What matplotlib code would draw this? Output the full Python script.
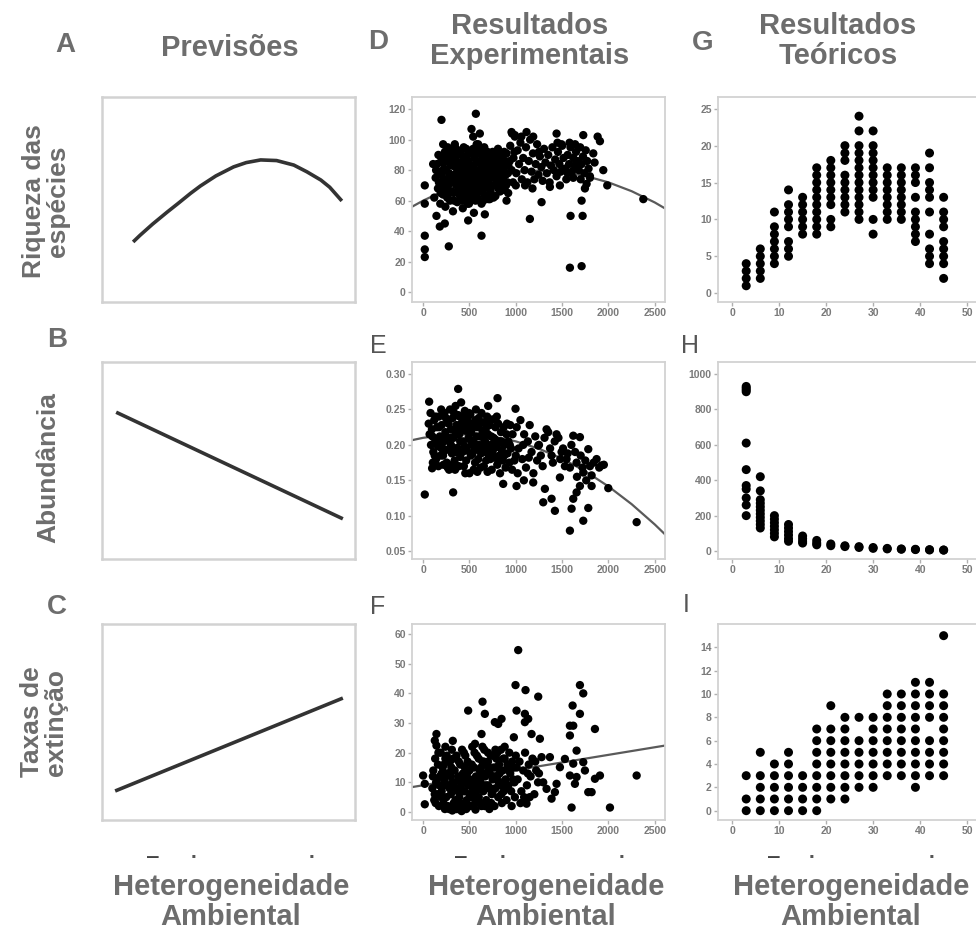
import numpy as np
import matplotlib.pyplot as plt

W, H = 976, 930

# ===== Previsões (coluna A-C), unidades normalizadas =====
pred_rich_x = [0.123, 0.15, 0.20, 0.258, 0.30, 0.35, 0.389, 0.45, 0.52, 0.57,
               0.627, 0.69, 0.758, 0.81, 0.865, 0.90, 0.948]
pred_rich_y = [0.293, 0.325, 0.38, 0.439, 0.48, 0.53, 0.566, 0.615, 0.659, 0.68,
               0.693, 0.69, 0.668, 0.635, 0.595, 0.56, 0.493]
pred_abund_x = [0.056, 0.952]
pred_abund_y = [0.745, 0.204]
pred_ext_x = [0.052, 0.952]
pred_ext_y = [0.148, 0.622]

# ===== Resultados experimentais (D-F) =====
rich_pts = [
    (120, 62), (135, 75), (150, 84), (160, 68), (175, 79), (185, 58), (195, 88), (205, 71), (215, 64), (225, 81),
    (235, 92), (240, 56), (250, 74), (262, 86), (270, 67), (280, 78), (290, 60), (298, 90), (305, 72), (315, 83),
    (322, 53), (330, 65), (338, 77), (345, 95), (352, 87), (360, 70), (368, 59), (375, 81), (382, 74), (390, 91),
    (398, 63), (405, 85), (412, 68), (420, 78), (428, 55), (435, 89), (442, 72), (450, 82), (458, 61), (465, 94),
    (472, 76), (480, 67), (488, 86), (495, 58), (502, 79), (510, 70), (518, 91), (525, 64), (532, 83), (540, 75),
    (548, 52), (555, 88), (562, 69), (570, 80), (578, 97), (585, 62), (592, 74), (600, 85), (608, 67), (615, 93),
    (622, 78), (630, 58), (638, 71), (645, 87), (652, 82), (660, 64), (668, 76), (675, 90), (682, 69), (690, 84),
    (698, 73), (705, 61), (712, 79), (720, 88), (728, 66), (735, 81), (742, 75), (750, 92), (758, 70), (765, 84),
    (772, 78), (780, 63), (788, 87), (795, 73), (802, 81), (810, 68), (818, 90), (825, 76), (832, 84), (840, 71),
    (848, 79), (855, 88), (862, 74), (870, 82), (878, 67), (885, 86), (892, 77), (900, 91), (910, 72), (920, 83),
    (250, 80), (300, 76), (350, 82), (400, 72), (450, 76), (500, 84), (550, 72), (600, 78), (650, 74), (700, 80),
    (200, 77), (280, 71), (330, 88), (380, 66), (430, 80), (480, 90), (530, 68), (580, 86), (630, 82), (680, 77),
    (210, 85), (260, 62), (310, 66), (360, 78), (410, 93), (460, 70), (510, 62), (560, 78), (610, 70), (660, 95),
    (170, 72), (230, 68), (290, 84), (340, 72), (390, 84), (440, 64), (490, 75), (540, 94), (590, 66), (640, 66),
    (720, 70), (770, 90), (820, 78), (860, 80),
    (140, 80), (165, 90), (190, 65), (220, 74), (245, 88), (265, 95), (285, 65), (310, 92), (335, 60), (355, 74),
    (372, 90), (395, 78), (418, 60), (438, 95), (462, 86), (478, 58), (500, 92), (520, 74), (545, 82), (565, 60),
    (585, 92), (605, 72), (628, 90), (650, 60), (672, 84), (695, 92), (718, 64), (740, 86), (760, 62), (785, 80),
    (808, 94), (830, 66), (852, 74), (875, 92), (895, 70), (915, 78), (935, 86), (955, 80), (970, 72), (985, 92),
    (940, 96), (960, 104), (975, 88), (990, 102), (1005, 78), (1020, 93), (1035, 84), (1050, 98), (1065, 74), (1080, 88),
    (1095, 80), (1110, 95), (1125, 72), (1140, 86), (1155, 100), (1170, 79), (1185, 91), (1200, 74), (1215, 84), (1230, 97),
    (1245, 77), (1260, 89), (1275, 82), (1290, 73), (1305, 94), (1320, 85), (1335, 78), (1350, 90), (1365, 72), (1380, 83),
    (1395, 95), (1410, 80), (1425, 87), (1440, 76), (1455, 92), (1470, 84), (1485, 79), (1500, 96), (1515, 88), (1530, 81),
    (1545, 74), (1560, 90), (1575, 84), (1590, 95), (1605, 79), (1620, 88), (1635, 83), (1650, 92), (1665, 86), (1680, 80),
    (1695, 95), (1710, 84), (1725, 89), (1740, 78), (1755, 93), (1770, 86), (1785, 81), (1800, 76), (1580, 98), (1640, 97),
    (1000, 70), (1100, 70), (1250, 92), (1180, 68), (1450, 98), (1560, 78), (1700, 74), (1850, 85), (1620, 75), (1060, 102),
    (198, 113), (569, 117), (522, 107), (18, 70), (18, 58), (18, 37), (18, 28), (18, 23), (277, 30), (630, 37),
    (1152, 48), (1278, 59), (1584, 16), (1710, 17), (1591, 50), (1721, 50), (1710, 60), (1987, 70), (2376, 61), (1836, 91),
    (1883, 102), (1908, 99), (1440, 104), (954, 105), (990, 103), (1116, 105), (1188, 102), (1494, 97), (1728, 103), (108, 84),
    (216, 97), (342, 97), (540, 102), (594, 97), (612, 104), (144, 50), (180, 43), (234, 45), (486, 47), (666, 51),
    (720, 61), (900, 60), (918, 65), (1368, 69), (1476, 70), (1746, 68), (1764, 71), (1944, 80), (1800, 75),
]
rich_fit_x = [-120, 0, 250, 500, 750, 1000, 1250, 1500, 1750, 2000, 2250, 2500, 2610]
rich_fit_y = [56.0, 60.0, 67.2, 72.8, 76.7, 79.0, 79.7, 78.8, 76.2, 72.0, 66.2, 58.8, 54.9]

abund_pts = [
    (60, 0.230), (70, 0.215), (85, 0.200), (95, 0.222), (110, 0.190), (120, 0.235), (130, 0.208), (140, 0.180), (150, 0.225), (160, 0.198),
    (170, 0.240), (180, 0.212), (190, 0.185), (200, 0.228), (210, 0.203), (220, 0.172), (230, 0.245), (240, 0.218), (250, 0.193), (260, 0.232),
    (270, 0.207), (280, 0.165), (290, 0.250), (300, 0.222), (310, 0.188), (320, 0.238), (330, 0.210), (340, 0.178), (350, 0.255), (360, 0.228),
    (370, 0.196), (380, 0.242), (390, 0.215), (400, 0.183), (410, 0.260), (420, 0.232), (430, 0.205), (440, 0.170), (450, 0.248), (460, 0.220),
    (470, 0.192), (480, 0.237), (490, 0.210), (500, 0.160), (510, 0.243), (520, 0.218), (530, 0.187), (540, 0.230), (550, 0.203), (560, 0.175),
    (570, 0.250), (580, 0.225), (590, 0.197), (600, 0.238), (610, 0.212), (620, 0.168), (630, 0.245), (640, 0.220), (650, 0.190), (660, 0.232),
    (670, 0.205), (680, 0.178), (690, 0.240), (700, 0.215), (710, 0.185), (720, 0.228), (730, 0.200), (740, 0.165), (750, 0.236), (760, 0.210),
    (770, 0.182), (780, 0.225), (790, 0.197), (800, 0.172), (810, 0.230), (820, 0.205), (830, 0.160), (840, 0.218), (850, 0.192), (860, 0.178),
    (870, 0.225), (880, 0.200), (890, 0.168), (900, 0.215), (910, 0.188), (920, 0.205), (930, 0.175), (940, 0.228), (950, 0.195), (960, 0.165),
    (100, 0.212), (150, 0.202), (200, 0.195), (250, 0.210), (300, 0.200), (350, 0.215), (400, 0.205), (450, 0.198), (500, 0.208), (550, 0.192),
    (600, 0.200), (650, 0.210), (700, 0.195), (750, 0.188), (800, 0.200), (125, 0.185), (175, 0.225), (225, 0.205), (275, 0.230), (325, 0.195),
    (375, 0.220), (425, 0.190), (475, 0.228), (525, 0.200), (575, 0.212), (625, 0.188), (675, 0.222), (725, 0.180), (775, 0.208), (825, 0.185),
    (255, 0.175), (345, 0.165), (455, 0.160), (585, 0.162), (695, 0.162), (395, 0.240), (505, 0.225), (615, 0.230),
    (80, 0.245), (105, 0.175), (135, 0.240), (165, 0.170), (195, 0.250), (215, 0.185), (245, 0.238), (265, 0.168), (295, 0.210), (315, 0.172),
    (335, 0.245), (355, 0.190), (385, 0.170), (405, 0.225), (435, 0.240), (465, 0.178), (495, 0.245), (515, 0.185), (545, 0.165), (565, 0.235),
    (595, 0.180), (635, 0.200), (655, 0.170), (685, 0.195), (705, 0.232), (735, 0.212), (765, 0.195), (795, 0.240), (815, 0.178), (845, 0.205),
    (875, 0.185), (905, 0.230), (935, 0.200), (965, 0.215), (985, 0.178),
    (1010, 0.225), (1030, 0.195), (1050, 0.235), (1070, 0.180), (1090, 0.215), (1110, 0.168), (1130, 0.205), (1150, 0.228), (1170, 0.190), (1190, 0.160),
    (1210, 0.212), (1230, 0.178), (1250, 0.200), (1270, 0.185), (1290, 0.170), (1310, 0.210), (1350, 0.218), (1370, 0.195), (1400, 0.175), (1420, 0.205),
    (1460, 0.210), (1480, 0.180), (1510, 0.195), (1530, 0.170), (1560, 0.188), (1600, 0.200), (1640, 0.190), (1660, 0.155), (1700, 0.185), (1720, 0.168),
    (1750, 0.178), (1760, 0.150), (1800, 0.170), (1840, 0.175), (1900, 0.168), (1950, 0.172), (1020, 0.160), (1080, 0.200), (1140, 0.182), (1000, 0.185),
    (378, 0.279), (65, 0.261), (702, 0.255), (803, 0.266), (997, 0.251), (18, 0.130), (324, 0.133), (97, 0.167), (864, 0.145), (1008, 0.142),
    (1087, 0.150), (1188, 0.147), (1296, 0.119), (1386, 0.124), (1422, 0.107), (1314, 0.138), (1476, 0.154), (1584, 0.079), (1728, 0.093), (1782, 0.111),
    (2304, 0.091), (1998, 0.139), (1602, 0.110), (1620, 0.124), (1656, 0.133), (1692, 0.142), (1818, 0.142), (1926, 0.171), (1872, 0.180), (1782, 0.194),
    (1692, 0.211), (1620, 0.213), (1440, 0.215), (1332, 0.222), (1242, 0.199), (1386, 0.185), (1494, 0.190), (1548, 0.180), (1584, 0.168), (1656, 0.175),
    (1728, 0.161), (1818, 0.157),
]
abund_fit_x = [-120, 0, 250, 500, 750, 1000, 1250, 1500, 1750, 2000, 2250, 2500, 2610]
abund_fit_y = [0.2067, 0.210, 0.2143, 0.2148, 0.2117, 0.205, 0.1946, 0.1806, 0.1628, 0.1414, 0.1164, 0.0877, 0.0738]

ext_pts = [
    (100, 8), (110, 14), (120, 4), (130, 18), (140, 10), (150, 6), (160, 16), (170, 2), (180, 12), (190, 20),
    (200, 7), (210, 15), (220, 3), (230, 11), (240, 18), (250, 5), (260, 13), (270, 9), (280, 1), (290, 17),
    (300, 6), (310, 21), (320, 10), (330, 3), (340, 14), (350, 8), (360, 19), (370, 1), (380, 12), (390, 5),
    (400, 16), (410, 9), (420, 2), (430, 13), (440, 20), (450, 7), (460, 11), (470, 4), (480, 17), (490, 9),
    (500, 14), (510, 2), (520, 10), (530, 22), (540, 6), (550, 15), (560, 3), (570, 12), (580, 19), (590, 8),
    (600, 5), (610, 14), (620, 10), (630, 2), (640, 17), (650, 7), (660, 21), (670, 12), (680, 4), (690, 16),
    (700, 9), (710, 3), (720, 13), (730, 19), (740, 6), (750, 11), (760, 15), (770, 2), (780, 8), (790, 18),
    (800, 12), (810, 5), (820, 16), (830, 9), (840, 21), (850, 3), (860, 14), (870, 7), (880, 18), (890, 11),
    (900, 4), (910, 16), (920, 9), (930, 20), (940, 13), (950, 7), (960, 17), (970, 11), (980, 15), (990, 5),
    (150, 11), (200, 13), (250, 9), (300, 12), (350, 4), (400, 11), (450, 15), (500, 6), (550, 10), (600, 18),
    (650, 13), (700, 17), (750, 7), (800, 20), (850, 10), (125, 6), (175, 9), (225, 16), (275, 13), (325, 18),
    (375, 7), (425, 10), (475, 13), (525, 16), (575, 7), (625, 15), (675, 9), (725, 8), (775, 12), (825, 13),
    (265, 2), (315, 0.5), (365, 4), (415, 0.3), (465, 1), (515, 5), (565, 0.8), (615, 3), (665, 2), (715, 1),
    (240, 22), (320, 24), (420, 21), (560, 23), (640, 22), (700, 20), (780, 21), (880, 22), (1000, 19), (1020, 11),
    (1040, 17), (1060, 7), (1080, 14), (1100, 20), (1120, 9), (1140, 16), (1160, 12), (1180, 18), (1200, 6), (1220, 14),
    (1240, 10), (1050, 3), (1150, 5),
    (105, 12), (135, 3), (165, 20), (195, 5), (215, 9), (235, 1), (255, 19), (285, 8), (305, 15), (335, 10),
    (355, 1), (385, 17), (405, 3), (435, 7), (455, 19), (485, 2), (505, 11), (535, 8), (555, 20), (585, 4),
    (605, 9), (635, 12), (655, 17), (685, 8), (705, 14), (735, 3), (755, 19), (785, 15), (815, 10), (845, 6),
    (865, 18), (895, 8), (925, 14), (955, 2), (985, 10), (1010, 15), (1090, 5), (1130, 13), (1210, 17), (1250, 13),
    (1026, 54.6), (997, 42.8), (1105, 41.1), (1242, 38.9), (1692, 42.8), (1728, 40.0), (1692, 33.1), (1613, 35.9), (1008, 34.2), (1098, 33.1),
    (1134, 31.4), (1098, 30.3), (486, 34.2), (641, 37.2), (666, 33.1), (774, 30.3), (846, 31.4), (810, 29.7), (630, 26.3), (979, 25.2),
    (1170, 26.3), (1260, 24.7), (1584, 29.1), (1620, 29.1), (1584, 25.8), (1854, 28.0), (144, 26.3), (126, 24.1), (144, 22.4), (2304, 12.3),
    (2016, 1.5), (1602, 1.5), (1116, 2.8), (18, 2.6), (18, 9.5), (0, 12.3), (1908, 12.3), (1854, 11.2), (1782, 6.7), (1818, 6.7),
    (1746, 14.0), (1728, 16.8), (1638, 9.5), (1656, 11.8), (1584, 12.3), (1422, 6.7), (1386, 4.5), (1332, 7.8), (1296, 10.0), (1440, 9.5),
    (1476, 15.1), (1368, 18.5), (1278, 18.5), (1530, 17.9), (1656, 20.7), (1620, 16.3),
]
ext_fit_x = [-120, 2610]
ext_fit_y = [8.4, 22.4]

# ===== Resultados teóricos (G-I) =====
teo_x = [3, 6, 9, 12, 15, 18, 21, 24, 27, 30, 33, 36, 39, 42, 45]
teo_rich = [
    [1, 2, 3, 4], [2, 3, 4, 5, 6], [4, 5, 6, 7, 8, 9, 11], [5, 6, 7, 9, 10, 11, 12, 14],
    [8, 9, 10, 11, 12, 13], [8, 9, 10, 11, 12, 13, 14, 15, 16, 17], [9, 10, 12, 13, 14, 15, 16, 17, 18],
    [11, 12, 13, 14, 15, 16, 18, 19, 20], [10, 11, 12, 13, 14, 15, 16, 17, 18, 19, 20, 22, 24],
    [8, 10, 13, 14, 15, 16, 17, 18, 19, 20, 22], [10, 11, 12, 13, 14, 15, 16, 17],
    [10, 11, 12, 13, 14, 15, 16, 17], [7, 8, 9, 10, 11, 13, 15, 16, 17],
    [4, 5, 6, 8, 11, 13, 14, 15, 17, 19], [2, 4, 5, 6, 7, 9, 10, 11, 13],
]
teo_abund = [
    [200, 260, 300, 350, 370, 460, 610, 900, 910, 920, 930],
    [130, 150, 170, 190, 210, 230, 250, 270, 290, 340, 420],
    [80, 100, 120, 140, 160, 180, 200], [55, 70, 90, 110, 130, 150],
    [45, 55, 70, 85], [35, 45, 60], [30, 40], [25, 30], [20, 25], [15, 20],
    [12, 15], [10, 12], [8, 10], [6, 8], [5, 6],
]
teo_ext = [
    [0, 1, 3], [0, 1, 2, 3, 5], [0, 1, 2, 3, 4], [0, 1, 2, 3, 4, 5], [0, 1, 2, 3],
    [0, 1, 2, 3, 4, 5, 6, 7], [1, 2, 3, 4, 5, 6, 7, 9], [1, 2, 3, 4, 5, 6, 7, 8],
    [2, 3, 4, 5, 6, 8], [2, 3, 4, 5, 6, 7, 8], [3, 4, 5, 6, 7, 8, 9, 10],
    [3, 4, 5, 6, 7, 8, 9, 10], [2, 3, 4, 5, 6, 7, 8, 9, 10, 11],
    [3, 4, 5, 6, 8, 9, 10, 11], [3, 4, 5, 6, 7, 8, 9, 10, 15],
]

# ===== estilo =====
GRAY = "#6d6d6d"
NARROW = ["Liberation Sans Narrow", "Liberation Sans", "DejaVu Sans"]
SANS = ["Liberation Sans", "DejaVu Sans"]
FRAME = "#d2d2d2"
DOT_EXP = 36
DOT_TEO = 42

fig = plt.figure(figsize=(W / 100, H / 100), dpi=100)


def box(l, t, r, b):
    return [l / W, 1 - b / H, (r - l) / W, (b - t) / H]


rows = [(97, 302), (362, 559), (624, 820)]


def style_pred(ax):
    ax.set_xlim(0, 1)
    ax.set_ylim(0, 1)
    ax.set_xticks([])
    ax.set_yticks([])
    for s in ax.spines.values():
        s.set_color(FRAME)
        s.set_linewidth(1.8)


def style_data(ax, xlim, ylim, xticks, yticks):
    ax.set_xlim(xlim)
    ax.set_ylim(ylim)
    ax.set_xticks(xticks)
    ax.set_yticks(yticks)
    for s in ax.spines.values():
        s.set_color(FRAME)
        s.set_linewidth(1.3)
    ax.tick_params(length=3, width=1, color="#b0b0b0", labelsize=7.5,
                   labelcolor="#7a7a7a", pad=1.5)
    for lab in ax.get_xticklabels() + ax.get_yticklabels():
        lab.set_fontweight("bold")
        lab.set_family(NARROW)


# coluna A-C
pred = [(pred_rich_x, pred_rich_y), (pred_abund_x, pred_abund_y), (pred_ext_x, pred_ext_y)]
for (t, b), (px, py) in zip(rows, pred):
    ax = fig.add_axes(box(102, t, 355, b))
    ax.plot(px, py, color="#333333", lw=2.6, solid_capstyle="butt")
    style_pred(ax)

# coluna D-F (linha ajustada fica por baixo dos pontos)
xt_exp = [0, 500, 1000, 1500, 2000, 2500]
exp = [
    (rich_pts, rich_fit_x, rich_fit_y, (-6.5, 128), [0, 20, 40, 60, 80, 100, 120]),
    (abund_pts, abund_fit_x, abund_fit_y, (0.039, 0.317), [0.05, 0.10, 0.15, 0.20, 0.25, 0.30]),
    (ext_pts, ext_fit_x, ext_fit_y, (-2.7, 63.4), [0, 10, 20, 30, 40, 50, 60]),
]
for (t, b), (pts, fx, fy, ylim, yt) in zip(rows, exp):
    ax = fig.add_axes(box(412, t, 665, b))
    xs, ys = zip(*pts)
    ax.plot(fx, fy, color="#5a5a5a", lw=1.6, zorder=1)
    ax.scatter(xs, ys, s=DOT_EXP, color="black", edgecolors="none", zorder=2)
    style_data(ax, (-120, 2610), ylim, xt_exp, yt)
    if yt[0] == 0.05:
        ax.set_yticklabels(["%.2f" % v for v in yt], fontweight="bold", family=NARROW)

# coluna G-I
teo = [
    (teo_rich, (-1.2, 26.6), [0, 5, 10, 15, 20, 25]),
    (teo_abund, (-45, 1068), [0, 200, 400, 600, 800, 1000]),
    (teo_ext, (-0.8, 16), [0, 2, 4, 6, 8, 10, 12, 14]),
]
for (t, b), (cols, ylim, yt) in zip(rows, teo):
    ax = fig.add_axes(box(718, t, 985, b))
    xs = [x for x, c in zip(teo_x, cols) for _ in c]
    ys = [v for c in cols for v in c]
    ax.scatter(xs, ys, s=DOT_TEO, color="black", edgecolors="none", zorder=2)
    style_data(ax, (-3, 53.8), ylim, [0, 10, 20, 30, 40, 50], yt)


# ===== textos =====
def ftext(x, y, s, **kw):
    kw.setdefault("color", GRAY)
    fig.text(x / W, 1 - y / H, s, ha="center", va="center", **kw)


for x, y, s in [(65, 45, "A"), (378, 42, "D"), (703, 43, "G"),
                (57, 340, "B"), (57, 607, "C")]:
    ftext(x, y, s, fontsize=20, fontweight="bold", family=NARROW)
for x, y, s in [(378, 346, "E"), (378, 607, "F"), (690, 346, "H"), (686, 605, "I")]:
    ftext(x, y, s, fontsize=18, family=SANS, color="#555555")

ftext(230, 48, "Previsões", fontsize=21, fontweight="bold", family=NARROW)
ftext(530, 41, "Resultados\nExperimentais", fontsize=21, fontweight="bold",
      family=NARROW, linespacing=1.1)
ftext(838, 41, "Resultados\nTeóricos", fontsize=21, fontweight="bold",
      family=NARROW, linespacing=1.1)

for x in (231, 546, 851):
    ftext(x, 902, "Heterogeneidade\nAmbiental", fontsize=21, fontweight="bold",
          family=NARROW, linespacing=1.05)

# restos de texto cortado sob os painéis
for x0 in (153, 461, 774):
    ftext(x0, 856, "‒", fontsize=15, fontweight="bold", family=SANS, color="#444444")
for x0 in (194, 312, 503, 622, 812, 932):
    ftext(x0, 857, "·", fontsize=15, fontweight="bold", family=SANS, color="#555555")

ftext(46, 201, "Riqueza das\nespécies", fontsize=19, fontweight="bold",
      family=SANS, rotation=90, linespacing=1.0)
ftext(48, 468, "Abundância", fontsize=19, fontweight="bold", family=SANS, rotation=90)
ftext(44, 722, "Taxas de\nextinção", fontsize=19, fontweight="bold",
      family=SANS, rotation=90, linespacing=1.0)

fig.savefig("out.png", dpi=100)
